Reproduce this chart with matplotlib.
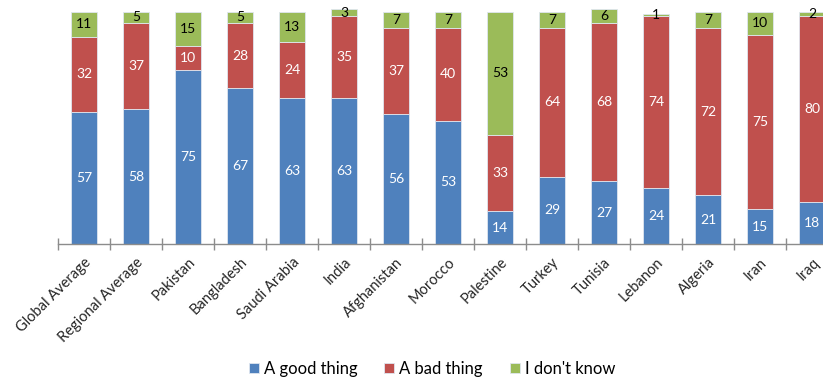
import numpy as np
import matplotlib
matplotlib.use("Agg")
from matplotlib import pyplot as plt

countries = ["Global Average", "Regional Average", "Pakistan", "Bangladesh", "Saudi Arabia",
             "India", "Afghanistan", "Morocco", "Palestine", "Turkey", "Tunisia",
             "Lebanon", "Algeria", "Iran", "Iraq"]
good = [57, 58, 75, 67, 63, 63, 56, 53, 14, 29, 27, 24, 21, 15, 18]
bad = [32, 37, 10, 28, 24, 35, 37, 40, 33, 64, 68, 74, 72, 75, 80]
dunno = [11, 5, 15, 5, 13, 3, 7, 7, 53, 7, 6, 1, 7, 10, 2]

series = [("A good thing", good, "#4F81BD", "white"),
          ("A bad thing", bad, "#C0504D", "white"),
          ("I don't know", dunno, "#9BBB59", "black")]

plt.rcParams['font.family'] = ['Lato', 'DejaVu Sans']

W, H = 823, 379
fig = plt.figure(figsize=(W / 100, H / 100), dpi=100)
ax = fig.add_axes([58 / W, (H - 244) / H, (W - 58) / W, 244 / H])

x = np.arange(len(countries))
bottom = np.zeros(len(countries))
handles = []
for name, vals, col, tcol in series:
    vals = np.array(vals, dtype=float)
    bars = ax.bar(x, vals, 0.5, bottom=bottom, color=col, edgecolor="#dfe6f0",
                  linewidth=0.6, label=name)
    handles.append(bars)
    for xi, b, v in zip(x, bottom, vals):
        ax.text(xi, b + v / 2, str(int(v)), ha="center", va="center",
                color=tcol, fontsize=10)
    bottom += vals

ax.set_yticks([])
for s in ["left", "right", "top"]:
    ax.spines[s].set_visible(False)
ax.spines["bottom"].set_color("#8c8c8c")
ax.spines["bottom"].set_linewidth(1)

# tick marks sit between the categories, labels under the bars
ax.set_xticks(np.arange(len(countries)) - 0.5)
ax.set_xticklabels([])
ax.tick_params(axis="x", which="major", direction="inout", length=8, color="#8c8c8c", width=1)
ax.set_xticks(x, minor=True)
ax.set_xticklabels(countries, minor=True, rotation=45, ha="right",
                   rotation_mode="anchor", fontsize=10.5, color="#262626")
ax.tick_params(axis="x", which="minor", length=0, pad=8)

ax.set_xlim(-0.5, (W - 58) / 52 - 0.5)
ax.set_ylim(0, 105)

fig.legend(handles=handles, loc="center", bbox_to_anchor=(432 / W, 10 / H),
           ncol=3, frameon=False, fontsize=12, handlelength=0.6, handleheight=0.6,
           handletextpad=0.3, columnspacing=1.6)

fig.savefig("out.png", dpi=100)
